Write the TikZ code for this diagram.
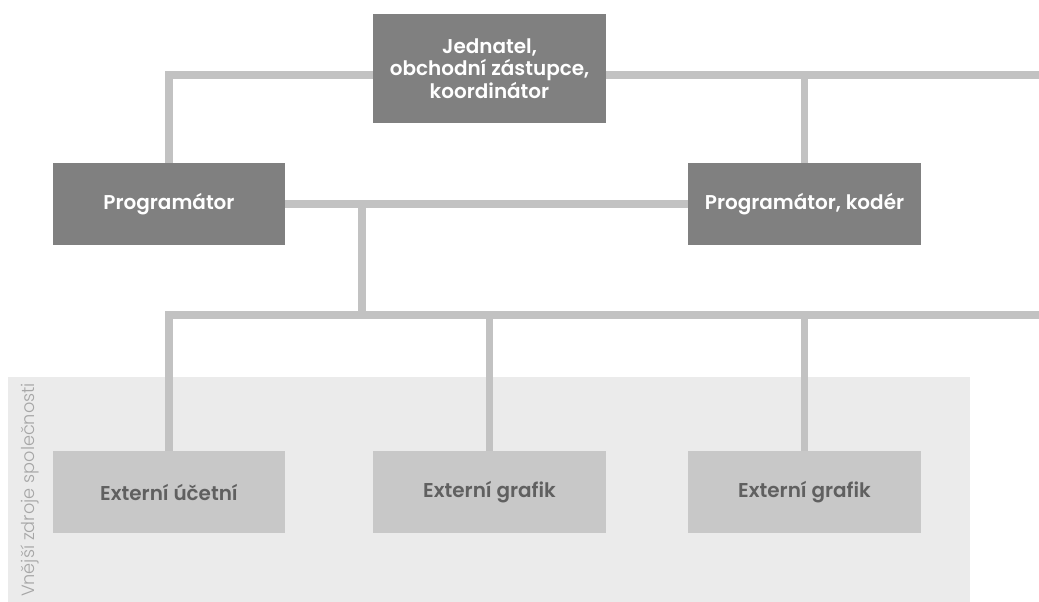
\documentclass[tikz,border=0pt]{standalone}
\usepackage{fontspec}
\setmainfont{Poppins}[BoldFont=* SemiBold]
\newfontfamily\lightfont{Poppins Light}
\usepackage{xcolor}
\usetikzlibrary{positioning,calc}
\definecolor{boxdark}{RGB}{128,128,128}
\definecolor{boxlight}{RGB}{200,200,200}
\definecolor{linegray}{RGB}{194,194,194}
\definecolor{bggray}{RGB}{235,235,235}
\definecolor{textgray}{RGB}{96,96,96}

\begin{document}
\begin{tikzpicture}[x=0.025cm, y=-0.025cm,
  intern/.style={rectangle, fill=boxdark, text=white, font=\bfseries\fontsize{14.2}{16}\selectfont, align=center, minimum width=5.8cm, minimum height=2.05cm, inner sep=0pt},
  extern/.style={rectangle, fill=boxlight, text=textgray, font=\bfseries\fontsize{14.2}{16}\selectfont, align=center, minimum width=5.8cm, minimum height=2.05cm, inner sep=0pt},
  conn/.style={draw=linegray, line width=5pt}]
\useasboundingbox (0,0) rectangle (1039,602);

% Externi oblast
\fill[bggray] (8,377) rectangle (970,602);
\node[rotate=90, text=black!35, font=\lightfont\fontsize{12.6}{14}\selectfont] (outside) at (30,490) {Vnější zdroje společnosti};

% Vedeni
\node[intern, minimum height=2.725cm] (boss) at (489.5,68.5) {Jednatel,\\obchodní zástupce,\\koordinátor};
\node[intern] (prog) at (169,204) {Programátor};
\node[intern] (coder) at (804.5,204) {Programátor, kodér};

% Externi
\node[extern] (ext1) at (169,492) {Externí účetní};
\node[extern] (ext2) at (489.5,492) {Externí grafik};
\node[extern] (ext3) at (804.5,492) {Externí grafik};

\coordinate (topEnd) at (1039,75);
\coordinate (hub) at (362,315);
\coordinate (busEnd) at (1039,315);

% Spoje
\draw[conn] (prog.north) |- (topEnd -| boss.west);
\draw[conn] (topEnd -| boss.east) -- (topEnd);
\draw[conn] (coder.north) -- (coder.north |- topEnd);
\draw[conn] (prog.east) -- (coder.west);
\draw[conn] (hub |- prog.east) -- (hub);
\draw[conn] (ext1.north) |- (busEnd);
\draw[conn] (ext2.north) -- (ext2.north |- busEnd);
\draw[conn] (ext3.north) -- (ext3.north |- busEnd);
\end{tikzpicture}
\end{document}
